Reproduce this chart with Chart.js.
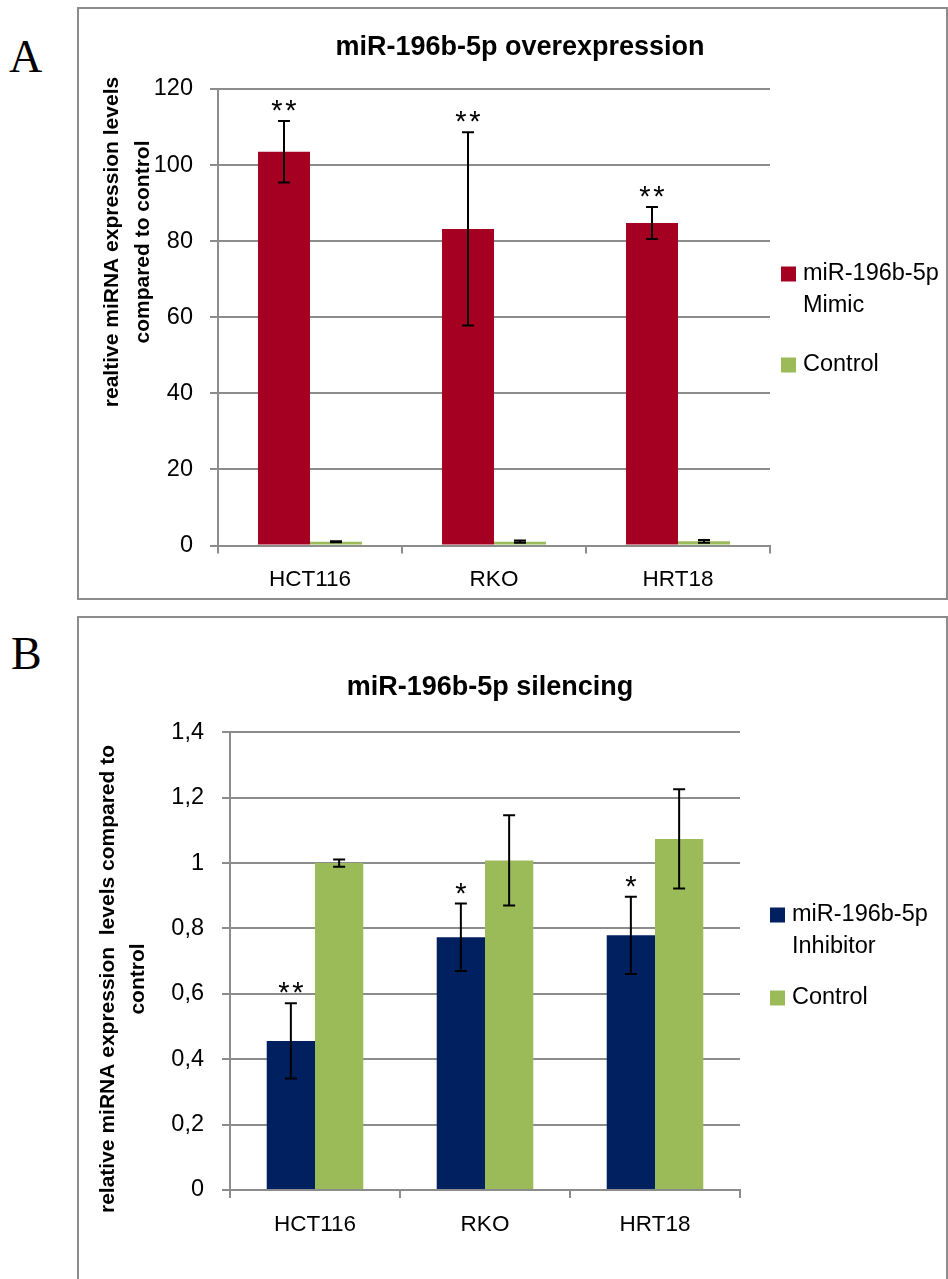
<!DOCTYPE html>
<html>
<head>
<meta charset="utf-8">
<title>miR-196b-5p expression</title>
<script src="https://cdn.jsdelivr.net/npm/chart.js"></script>
<style>
  body { margin: 0; background: #fff; }
  #page { position: relative; width: 948px; height: 1279px; overflow: hidden; }
  .panel { position: absolute; border: 2px solid #8c8c8c; box-sizing: border-box; }
  .letter { position: absolute; font-family: "Liberation Serif", "Times New Roman", serif; font-size: 46px; line-height: 46px; }
  canvas { position: absolute; left: 0; }
</style>
</head>
<body>
<div id="page">
  <div class="panel" style="left:77px;top:7px;width:871px;height:593px"></div>
  <div class="panel" style="left:77px;top:616px;width:871px;height:700px"></div>
  <div class="letter" style="left:9px;top:34px">A</div>
  <div class="letter" style="left:11px;top:631px">B</div>
  <canvas id="chartA" width="948" height="600" style="top:0"></canvas>
  <canvas id="chartB" width="948" height="679" style="top:600px"></canvas>
</div>
<script>
const cellLines = ['HCT116', 'RKO', 'HRT18'];

// A: overexpression with mimic
const mimicMeans = [103.5, 83.2, 84.8];
const mimicSD = [8.1, 25.4, 4.2];
const mimicCtrlMeans = [1.0, 1.0, 1.1];
const mimicCtrlSD = [0.15, 0.3, 0.35];
const mimicStars = ['**', '**', '**'];
const yTicksA = [0, 20, 40, 60, 80, 100, 120];

// B: silencing with inhibitor
const inhibMeans = [0.456, 0.773, 0.779];
const inhibSD = [0.115, 0.103, 0.118];
const inhibCtrlMeans = [1.0, 1.008, 1.074];
const inhibCtrlSD = [0.011, 0.138, 0.152];
const inhibStars = ['**', '*', '*'];
const yTicksB = [0, 0.2, 0.4, 0.6, 0.8, 1, 1.2, 1.4];

const RED = '#a50021', GREEN = '#9bbb59', NAVY = '#002060', GRID = '#8c8c8c';
const FONT = '"Liberation Sans", Arial, sans-serif';

// error bars with caps, plus significance stars above them
const errorBars = {
  id: 'errorBars',
  afterDatasetsDraw(chart) {
    const ctx = chart.ctx, y = chart.scales.y;
    chart.data.datasets.forEach((ds, i) => {
      chart.getDatasetMeta(i).data.forEach((bar, j) => {
        const v = ds.data[j], e = ds.errors[j];
        const top = y.getPixelForValue(v + e), bot = y.getPixelForValue(v - e);
        ctx.save();
        ctx.strokeStyle = '#000';
        ctx.lineWidth = 2;
        ctx.beginPath();
        ctx.moveTo(bar.x, top); ctx.lineTo(bar.x, bot);
        ctx.moveTo(bar.x - 6, top); ctx.lineTo(bar.x + 6, top);
        ctx.moveTo(bar.x - 6, bot); ctx.lineTo(bar.x + 6, bot);
        ctx.stroke();
        const s = ds.stars && ds.stars[j];
        if (s) {
          ctx.fillStyle = '#000';
          ctx.font = '29px ' + FONT;
          ctx.textAlign = 'center';
          ctx.textBaseline = 'alphabetic';
          for (let k = 0; k < s.length; k++) {
            ctx.fillText('*', bar.x + (k - (s.length - 1) / 2) * 14, top - 1);
          }
        }
        ctx.restore();
      });
    });
  }
};

// chart title, rotated y title and the side legend
const decorations = {
  id: 'decorations',
  afterDraw(chart, args, o) {
    const ctx = chart.ctx;
    ctx.save();
    ctx.fillStyle = '#000';
    ctx.textAlign = 'center';
    ctx.textBaseline = 'middle';
    ctx.font = 'bold 27px ' + FONT;
    ctx.fillText(o.title, o.titleX, o.titleY);

    ctx.font = 'bold 21px ' + FONT;
    o.axisTitle.forEach((t, k) => {
      ctx.save();
      ctx.translate(o.axisTitleX[k], o.axisTitleY);
      ctx.rotate(-Math.PI / 2);
      ctx.fillText(t, 0, 0);
      ctx.restore();
    });

    ctx.font = '23.5px ' + FONT;
    ctx.textAlign = 'left';
    chart.data.datasets.forEach((ds, i) => {
      const ry = o.legendRows[i];
      ctx.fillStyle = ds.backgroundColor;
      ctx.fillRect(o.legendX, ry - 7.5, 15, 15);
      ctx.fillStyle = '#000';
      ds.legendLines.forEach((ln, k) => ctx.fillText(ln, o.legendX + 22, ry + k * 32));
    });
    ctx.restore();
  }
};

function makeChart(id, cfg) {
  return new Chart(document.getElementById(id), {
    type: 'bar',
    data: {
      labels: cellLines,
      datasets: cfg.datasets.map(d => Object.assign({
        borderWidth: 0,
        barPercentage: 1,
        categoryPercentage: cfg.catPct
      }, d))
    },
    options: {
      responsive: false,
      animation: false,
      layout: { padding: cfg.padding },
      plugins: {
        legend: { display: false },
        title: { display: false },
        tooltip: { enabled: false },
        decorations: cfg.deco
      },
      scales: {
        x: {
          afterFit: s => { s.height = cfg.xHeight; },
          grid: { drawOnChartArea: false, drawTicks: true, tickLength: 8, color: GRID, lineWidth: 2 },
          border: { color: GRID, width: 2 },
          ticks: { color: '#000', font: { family: FONT, size: 22.5 }, padding: 13 }
        },
        y: {
          min: 0,
          max: cfg.yTicks[cfg.yTicks.length - 1],
          afterFit: s => { s.width = cfg.yWidth; },
          afterBuildTicks: s => { s.ticks = cfg.yTicks.map(v => ({ value: v })); },
          grid: { color: GRID, lineWidth: 2, tickLength: 8 },
          border: { color: GRID, width: 2 },
          ticks: {
            color: '#000',
            font: { family: FONT, size: 23.5 },
            padding: cfg.tickPad,
            callback: v => String(Number(v.toFixed(1))).replace('.', ',')
          }
        }
      }
    },
    plugins: [errorBars, decorations]
  });
}

makeChart('chartA', {
  catPct: 0.565,
  padding: { top: 89, right: 178, left: 0, bottom: 0 },
  xHeight: 54.5,
  yWidth: 218,
  tickPad: 17,
  yTicks: yTicksA,
  datasets: [
    { label: 'miR-196b-5p Mimic', legendLines: ['miR-196b-5p', 'Mimic'], data: mimicMeans, errors: mimicSD, stars: mimicStars, backgroundColor: RED },
    { label: 'Control', legendLines: ['Control'], data: mimicCtrlMeans, errors: mimicCtrlSD, backgroundColor: GREEN }
  ],
  deco: {
    title: 'miR-196b-5p overexpression', titleX: 520, titleY: 48,
    axisTitle: ['realtive miRNA expression levels', 'compared to control'],
    axisTitleX: [112, 143], axisTitleY: 242,
    legendX: 781, legendRows: [274, 365]
  }
});

makeChart('chartB', {
  catPct: 0.568,
  padding: { top: 132.3, right: 208, left: 0, bottom: 0 },
  xHeight: 89,
  yWidth: 230,
  tickPad: 18,
  yTicks: yTicksB,
  datasets: [
    { label: 'miR-196b-5p Inhibitor', legendLines: ['miR-196b-5p', 'Inhibitor'], data: inhibMeans, errors: inhibSD, stars: inhibStars, backgroundColor: NAVY },
    { label: 'Control', legendLines: ['Control'], data: inhibCtrlMeans, errors: inhibCtrlSD, backgroundColor: GREEN }
  ],
  deco: {
    title: 'miR-196b-5p silencing', titleX: 490, titleY: 88,
    axisTitle: ['relative miRNA expression  levels compared to', 'control'],
    axisTitleX: [108, 138], axisTitleY: 379,
    legendX: 770, legendRows: [315, 398]
  }
});
</script>
</body>
</html>
